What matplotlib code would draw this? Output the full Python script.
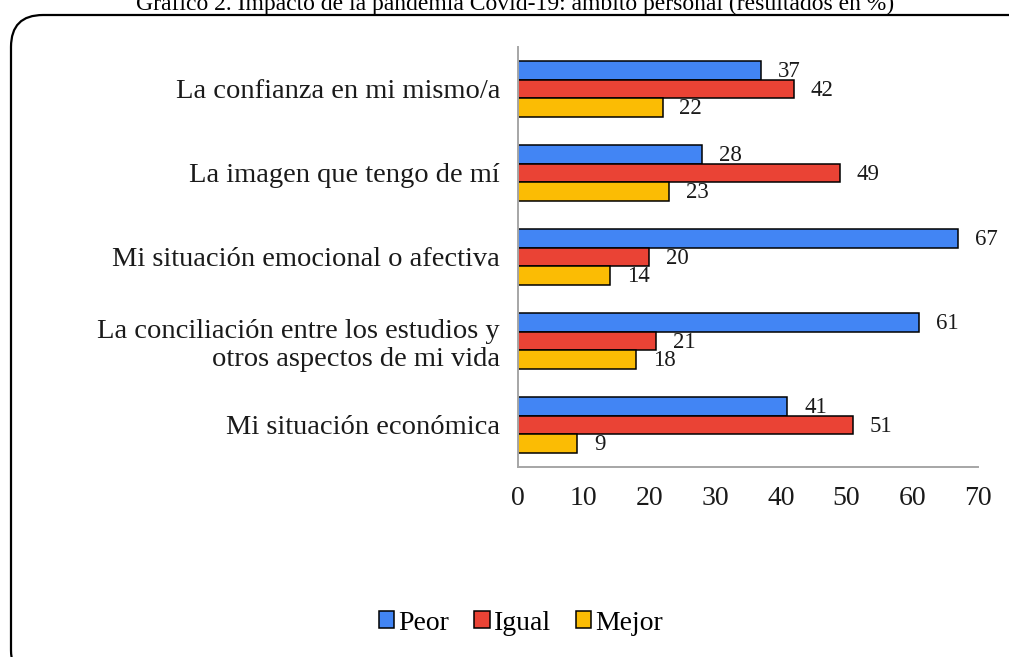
import matplotlib.pyplot as plt
from matplotlib.patches import FancyBboxPatch, Patch
from matplotlib.transforms import IdentityTransform
import numpy as np

plt.rcParams['font.family'] = ['Liberation Serif', 'DejaVu Serif']

categorias = ['La confianza en mi mismo/a',
              'La imagen que tengo de mí',
              'Mi situación emocional o afectiva',
              'La conciliación entre los estudios y\notros aspectos de mi vida',
              'Mi situación económica']
peor = [37, 28, 67, 61, 41]
igual = [42, 49, 20, 21, 51]
mejor = [22, 23, 14, 18, 9]
series = ['Peor', 'Igual', 'Mejor']
colores = ['#4285F4', '#EA4335', '#FBBC04']

fig = plt.figure(figsize=(10.09, 6.57), dpi=100)
ax = fig.add_axes([518 / 1009, 1 - 467 / 657, 460 / 1009, 420 / 657])

y = np.arange(len(categorias))
h = 0.22
for i, (vals, col) in enumerate(zip([peor, igual, mejor], colores)):
    pos = y - h + i * h
    ax.barh(pos, vals, height=h, color=col, edgecolor='black', linewidth=1.1)
    for p, v in zip(pos, vals):
        ax.annotate(str(v), (v, p), xytext=(12, -1), textcoords='offset points',
                    ha='left', va='center', fontsize=16.5, color='#1a1a1a')

ax.set_ylim(len(categorias) - 0.5, -0.5)
ax.set_xlim(0, 70)
ax.set_xticks(range(0, 71, 10))
ax.set_yticks(y)
ax.set_yticklabels(categorias, fontsize=20.5, color='#1a1a1a', linespacing=1.15)
ax.tick_params(axis='x', length=0, pad=14, labelsize=20, labelcolor='#1a1a1a')
ax.tick_params(axis='y', length=0, pad=13)
for s in ['top', 'right']:
    ax.spines[s].set_visible(False)
for s in ['left', 'bottom']:
    ax.spines[s].set_color('#A6A6A6')
    ax.spines[s].set_linewidth(1.4)

# marco redondeado (se sale por la derecha y por abajo)
marco = FancyBboxPatch((11, -25), 1040, 657 - 15 + 25,
                       boxstyle='round,pad=0,rounding_size=32',
                       transform=IdentityTransform(), fill=False,
                       edgecolor='black', linewidth=1.6, clip_on=False)
fig.patches.append(marco)

fig.text(515 / 1009, 1 - 10 / 657,
         'Gráfico 2. Impacto de la pandemia Covid-19: ámbito personal (resultados en %)',
         ha='center', va='baseline', fontsize=17)

handles = [Patch(facecolor=c, edgecolor='black', linewidth=1.1) for c in colores]
fig.legend(handles, series, loc='center', bbox_to_anchor=(521 / 1009, 1 - 623 / 657),
           ncol=3, frameon=False, fontsize=20, handlelength=0.55, handleheight=0.55,
           handletextpad=0.15, columnspacing=0.9)

fig.savefig('out.png', dpi=100)
